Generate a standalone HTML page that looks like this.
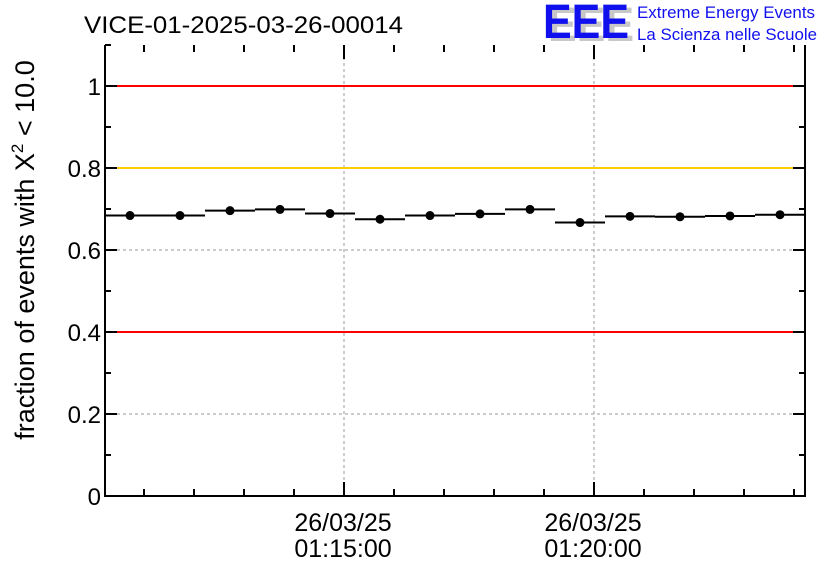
<!DOCTYPE html>
<html><head><meta charset="utf-8"><style>
body{margin:0;background:#fff}
svg{display:block;font-family:"Liberation Sans",Arial,sans-serif}
</style></head><body>
<svg id="c" width="836" height="572" viewBox="0 0 836 572">
<text x="84" y="33" font-size="24" textLength="319" lengthAdjust="spacingAndGlyphs">VICE-01-2025-03-26-00014</text>
<g>
<text x="548" y="41" font-size="48" font-weight="bold" fill="#c8c8c8" textLength="86" lengthAdjust="spacingAndGlyphs">EEE</text>
<text x="543" y="38" font-size="48" font-weight="bold" fill="#1010ee" textLength="86" lengthAdjust="spacingAndGlyphs">EEE</text>
<text x="637" y="18" font-size="17" fill="#1010ee" textLength="178" lengthAdjust="spacingAndGlyphs">Extreme Energy Events</text>
<text x="637" y="40" font-size="17" fill="#1010ee" textLength="180" lengthAdjust="spacingAndGlyphs">La Scienza nelle Scuole</text>
</g>
<g id="plot"></g>
<text transform="translate(34,250) rotate(-90)" text-anchor="middle" font-size="27">fraction of events with Χ<tspan dy="-11" font-size="17">2</tspan><tspan dy="11"> &lt; 10.0</tspan></text>
</svg>
<script>
const binMinutes=[0,1,2,3,4,5,6,7,8,9,10,11,12,13];
const values=[0.684,0.684,0.696,0.699,0.689,0.675,0.684,0.688,0.699,0.667,0.682,0.681,0.683,0.686];
const yTicks=[0,0.2,0.4,0.6,0.8,1];
const yTickLabels=["0","0.2","0.4","0.6","0.8","1"];
const xMajorMinutes=[4.78,9.78];
const xMajorLabels=[["26/03/25","01:15:00"],["26/03/25","01:20:00"]];
const refLines=[{v:1,c:"#ff0000"},{v:0.8,c:"#ffcc00"},{v:0.4,c:"#ff0000"}];
const L=105,R=805,T=45,B=496,yMax=1.1,xMax=14;
const X=m=>L+m/xMax*(R-L);
const Y=v=>B-v/yMax*(B-T);
const g=document.getElementById('plot');
const NS="http://www.w3.org/2000/svg";
function mk(t,a,p){const e=document.createElementNS(NS,t);for(const k in a)e.setAttribute(k,a[k]);(p||g).appendChild(e);return e;}
yTicks.forEach((v)=>{if(v>0){const e=mk('line',{x1:L,x2:R,y1:Y(v),y2:Y(v),stroke:'#999','stroke-dasharray':'3,3','stroke-width':1});

}});
xMajorMinutes.forEach(m=>{const e=mk('line',{x1:X(m),x2:X(m),y1:T,y2:B,stroke:'#999','stroke-dasharray':'3,3'});

});
refLines.forEach(r=>{const e=mk('line',{x1:L,x2:R,y1:Y(r.v),y2:Y(r.v),stroke:r.c,'stroke-width':2});

});
yTicks.forEach((v,i)=>{mk('line',{x1:L,x2:L+12,y1:Y(v),y2:Y(v),stroke:'#000','stroke-width':2});
mk('line',{x1:R,x2:R-12,y1:Y(v),y2:Y(v),stroke:'#000','stroke-width':2});
if(i<yTicks.length-1){mk('line',{x1:L,x2:L+6,y1:Y(v+0.1),y2:Y(v+0.1),stroke:'#000','stroke-width':2});mk('line',{x1:R,x2:R-6,y1:Y(v+0.1),y2:Y(v+0.1),stroke:'#000','stroke-width':2});}
const t=mk('text',{x:L-4,y:Y(v)+9,'text-anchor':'end','font-size':24});t.textContent=yTickLabels[i];

});
mk('line',{x1:L,x2:L+6,y1:Y(1.1),y2:Y(1.1),stroke:'#000','stroke-width':2});
for(let m=xMajorMinutes[0]-4;m<=xMax;m+=1){if(m<0)continue;const maj=xMajorMinutes.some(a=>Math.abs(a-m)<1e-6);const h=maj?14:7;
mk('line',{x1:X(m),x2:X(m),y1:B,y2:B-h,stroke:'#000','stroke-width':2});mk('line',{x1:X(m),x2:X(m),y1:T,y2:T+h,stroke:'#000','stroke-width':2});}
xMajorMinutes.forEach((m,i)=>{[0,1].forEach(j=>{const t=mk('text',{x:X(m)-1,y:531+j*26,'text-anchor':'middle','font-size':25});t.textContent=xMajorLabels[i][j];

});});
binMinutes.forEach((m,i)=>{const y=Y(values[i]);
const l=mk('line',{x1:X(m),x2:X(m+1),y1:y,y2:y,stroke:'#000','stroke-width':2});


const c=mk('circle',{cx:X(m+0.5),cy:y,r:4.5,fill:'#000'});

});
const ax=mk('path',{d:`M${L},${T}V${B}H${R}V${T}`,fill:'none',stroke:'#000','stroke-width':2});


</script>
</body></html>
